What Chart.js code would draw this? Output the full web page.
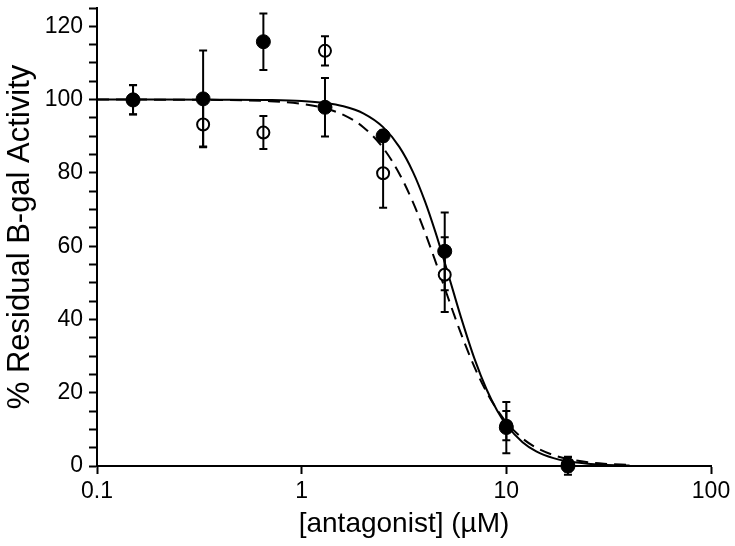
<!DOCTYPE html>
<html>
<head>
<meta charset="utf-8">
<script src="https://cdn.jsdelivr.net/npm/chart.js@4.4.1/dist/chart.umd.min.js"></script>
<style>
html,body{margin:0;padding:0;background:#fff;}
#wrap{width:735px;height:546px;}
</style>
</head>
<body>
<div id="wrap"><canvas id="c" width="735" height="546"></canvas></div>
<script>
// ---- data ----
const concFilled = [0.15, 0.33, 0.65, 1.3, 2.5, 5, 10, 20];
const actFilled  = [99.9, 100.2, 115.8, 97.9, 90.1, 58.6, 10.5, 0];
const errFilled  = [4.0, 13.2, 7.7, 8.0, 1.5, 10.6, 7.0, 2.4];

const concOpen = [0.15, 0.33, 0.65, 1.3, 2.5, 5, 10, 20];
const actOpen  = [100, 93.2, 91, 113.3, 79.9, 52.2, 11, 0.5];
const errOpen  = [4, 6, 4.5, 4, 9.4, 10.2, 4, 2];

// fitted curves
const curveX      = [0.1, 0.2, 0.4, 0.7, 1, 1.3, 1.6, 2, 2.5, 3, 3.5, 4, 4.5, 5, 5.5, 6, 7, 8, 9, 10, 12, 14, 17, 20, 25, 30, 40];
const curveSolid  = [100, 100, 99.98, 99.88, 99.61, 99.07, 98.17, 96.26, 92.49, 87.09, 80.22, 72.29, 63.89, 55.56, 47.72, 40.64, 29.16, 20.95, 15.23, 11.26, 6.50, 4.01, 2.16, 1.27, 0.61, 0.34, 0.13];
const curveDashed = [100, 99.99, 99.91, 99.57, 98.84, 97.63, 95.82, 92.48, 86.81, 79.79, 71.94, 63.82, 55.92, 48.57, 41.97, 36.18, 26.91, 20.21, 15.41, 11.94, 7.52, 5.02, 2.98, 1.91, 1.03, 0.62, 0.28];

const xTicks = [0.1, 1, 10, 100];
const xTickLabels = ['0.1', '1', '10', '100'];

const FONT = '"Liberation Sans", Arial, Helvetica, sans-serif';

function pts(xs, ys){ return xs.map((x,i)=>({x:x, y:ys[i]})); }

const errorBars = {
  id: 'errorBars',
  afterDatasetsDraw(chart){
    const ctx = chart.ctx, xs = chart.scales.x, ys = chart.scales.y;
    const sets = [[concFilled, actFilled, errFilled],[concOpen, actOpen, errOpen]];
    ctx.save();
    ctx.strokeStyle = '#000';
    ctx.lineWidth = 2;
    sets.forEach(([cx, cy, ce]) => {
      cx.forEach((c,i) => {
        const px = xs.getPixelForValue(c);
        const top = ys.getPixelForValue(cy[i] + ce[i]);
        const bot = ys.getPixelForValue(cy[i] - ce[i]);
        ctx.beginPath();
        ctx.moveTo(px, top); ctx.lineTo(px, bot);
        ctx.moveTo(px-4, top); ctx.lineTo(px+4, top);
        ctx.moveTo(px-4, bot); ctx.lineTo(px+4, bot);
        ctx.stroke();
      });
    });
    ctx.restore();
  }
};

new Chart(document.getElementById('c'), {
  type: 'line',
  data: {
    datasets: [
      { data: pts(curveX, curveSolid), borderColor:'#000', borderWidth:2, pointRadius:0, fill:false, cubicInterpolationMode:'monotone', order:4 },
      { data: pts(curveX, curveDashed), borderColor:'#000', borderWidth:2, borderDash:[12,7], pointRadius:0, fill:false, cubicInterpolationMode:'monotone', order:3 },
      { data: pts(concOpen, actOpen), showLine:false, pointRadius:6, pointBackgroundColor:'#fff', pointBorderColor:'#000', pointBorderWidth:2, clip:false, order:2 },
      { data: pts(concFilled, actFilled), showLine:false, pointRadius:7, pointBackgroundColor:'#000', pointBorderColor:'#000', pointBorderWidth:1, clip:false, order:1 }
    ]
  },
  options: {
    responsive:false,
    animation:false,
    layout:{ padding:{ top:7, right:24, left:0, bottom:0 } },
    plugins:{ legend:{display:false}, tooltip:{enabled:false} },
    scales:{
      x:{
        type:'logarithmic', min:0.1, max:100,
        afterBuildTicks(s){ s.ticks = xTicks.map(v=>({value:v})); },
        afterFit(s){ s.height = 80; },
        border:{ display:true, color:'#000', width:2 },
        grid:{ drawOnChartArea:false, drawTicks:true, tickLength:8, tickColor:'#000', tickWidth:2 },
        ticks:{ color:'#000', font:{family:FONT, size:23}, padding:4, maxRotation:0, autoSkip:false,
          callback:(v)=>{ const i = xTicks.indexOf(v); return i>=0 ? xTickLabels[i] : ''; } },
        title:{ display:true, text:'[antagonist] (\u00b5M)', color:'#000', font:{family:FONT, size:28}, padding:{top:2, bottom:5} }
      },
      y:{
        type:'linear', min:0, max:125,
        afterFit(s){ s.width = 97; },
        border:{ display:true, color:'#000', width:2 },
        grid:{ drawOnChartArea:false, drawTicks:true, tickLength:8, tickColor:'#000', tickWidth:2 },
        ticks:{ stepSize:5, color:'#000', padding:6, autoSkip:false,
          font:(c)=> ({family:FONT, size: (c.tick && c.tick.value % 20 === 0) ? 23 : 1}),
          callback:(v)=> (v % 20 === 0 ? String(v) : '') },
        title:{ display:true, text:'% Residual B-gal Activity', color:'#000', font:{family:FONT, size:31}, padding:{top:2, bottom:2} }
      }
    }
  },
  plugins:[errorBars]
});
</script>
</body>
</html>
